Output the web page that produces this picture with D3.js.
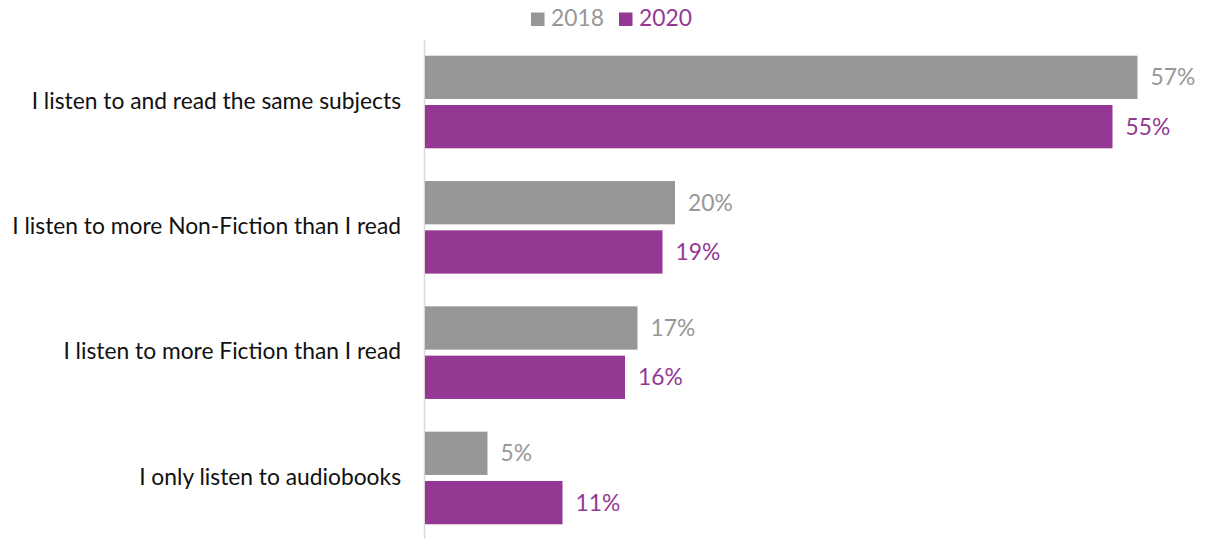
<!DOCTYPE html>
<html>
<head>
<meta charset="utf-8">
<script src="https://cdn.jsdelivr.net/npm/d3@7/dist/d3.min.js"></script>
<style>
  html, body { margin: 0; padding: 0; background: #fff; }
  svg { display: block; }
  text { font-family: Lato, "Open Sans", "Liberation Sans", sans-serif; }
</style>
</head>
<body>
<svg id="chart" width="1207" height="539"></svg>
<script>
// Survey answers: how listening compares with reading
const categories = [
  "I listen to and read the same subjects",
  "I listen to more Non-Fiction than I read",
  "I listen to more Fiction than I read",
  "I only listen to audiobooks"
];
const series = ["2018", "2020"];
const values2018 = [57, 20, 17, 5];
const values2020 = [55, 19, 16, 11];
const colors = { "2018": "#979797", "2020": "#943894" };

const data = categories.map((c, i) => ({
  category: c,
  bars: [
    { key: "2018", value: values2018[i] },
    { key: "2020", value: values2020[i] }
  ]
}));

const svg = d3.select("#chart");
const width = 1207, height = 539;
const axisX = 425;

const x = d3.scaleLinear().domain([0, 62]).range([axisX, axisX + 775]);
const y0 = d3.scaleBand().domain(categories).range([39.5, 540.8]);
const y1 = d3.scaleBand().domain(series).range([16.2, 108.8]).paddingInner(0.122);

// Size the category text so the longest label fits the left margin
const labelRight = 401;
const probe = svg.append("text").attr("font-size", 24).text(categories[1]);
const w24 = probe.node().getComputedTextLength();
probe.remove();
const fontSize = 24 * 389 / w24;

// Vertical axis line
svg.append("line")
  .attr("x1", axisX - 0.5).attr("x2", axisX - 0.5)
  .attr("y1", 40).attr("y2", height)
  .attr("stroke", "#d9d9d9").attr("stroke-width", 1.5);

const groups = svg.append("g").selectAll("g")
  .data(data).join("g")
  .attr("transform", d => `translate(0,${y0(d.category)})`);

groups.selectAll("rect")
  .data(d => d.bars).join("rect")
  .attr("x", x(0))
  .attr("y", d => y1(d.key))
  .attr("width", d => x(d.value) - x(0))
  .attr("height", y1.bandwidth())
  .attr("fill", d => colors[d.key]);

groups.selectAll("text.val")
  .data(d => d.bars).join("text")
  .attr("class", "val")
  .attr("x", d => x(d.value) + 13)
  .attr("y", d => y1(d.key) + y1.bandwidth() / 2)
  .attr("dy", "0.35em")
  .attr("font-size", fontSize)
  .attr("fill", d => colors[d.key])
  .text(d => d.value + "%");

// Category labels
svg.append("g").selectAll("text")
  .data(categories).join("text")
  .attr("x", labelRight)
  .attr("y", d => y0(d) + y0.bandwidth() / 2 - 1.5)
  .attr("dy", "0.35em")
  .attr("text-anchor", "end")
  .attr("font-size", fontSize)
  .attr("fill", "#111")
  .text(d => d);

// Legend
const legendPos = { "2018": 531, "2020": 619 };
const legend = svg.append("g").selectAll("g")
  .data(series).join("g")
  .attr("transform", d => `translate(${legendPos[d]},0)`);
legend.append("rect")
  .attr("x", 0).attr("y", 12.5)
  .attr("width", 13.5).attr("height", 13.5)
  .attr("fill", d => colors[d]);
legend.append("text")
  .attr("x", 20).attr("y", 26)
  .attr("font-size", fontSize)
  .attr("fill", d => colors[d])
  .text(d => d);
</script>
</body>
</html>
